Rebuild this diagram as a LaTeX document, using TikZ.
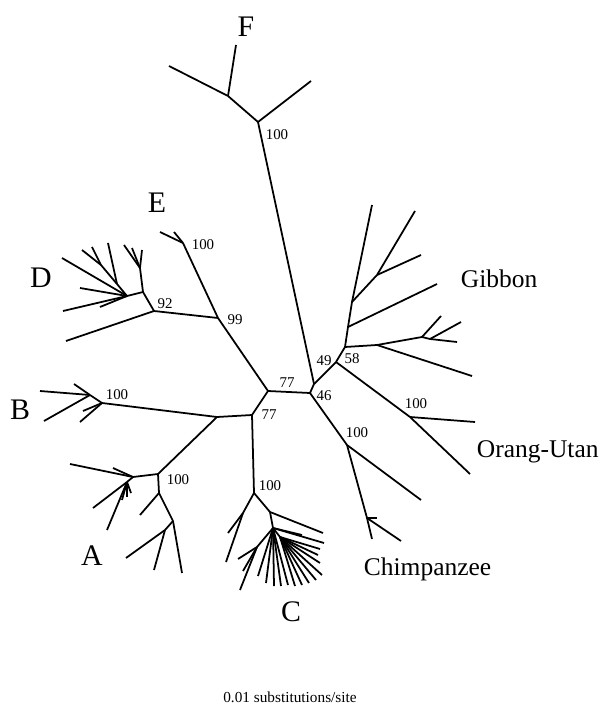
\documentclass[tikz,border=0pt]{standalone}
\usepackage{fontspec}
\setmainfont{Liberation Serif}
\begin{document}
\begin{tikzpicture}[x=0.02cm,y=-0.02cm,line width=1pt,line join=round]
	\tikzset{boot/.style={font=\fontsize{8.5}{10}\selectfont,inner sep=0pt},
		clade/.style={font=\fontsize{17}{20}\selectfont,inner sep=0pt,anchor=base},
		taxon/.style={font=\fontsize{14.5}{17}\selectfont,inner sep=0pt,anchor=base west}}
	\useasboundingbox (0,0) rectangle (601,705);
	% inner nodes
	\foreach \n/\x/\y in {n77a/268/391,n46/310/393,n49/314/384,n58/336/362,n77b/252/415,
		nX/217/417,n99/218/318,n92/154/311,nE/183/243,nF/258/122,f1/228/96,
		nA/158/474,nB/102/403,nC/254/493,nOU/410/417,nCh/347/445,ch2/367/518,
		g1/345/347,g2/348/327,g3/352/302,g4/377/275,g5/377/345,g6/422/337,g7/430/339,
		d1/143/292,d2/140/268,d3/127/296,d4/117/284,d5/101/265,b1/90/395,
		a1/133/477,a2/127/482,a3/159/493,a4/173/521,a5/165/530,
		c2/243/513,c3/270/512,c4/273/528,c5/280/537,s1/257/547}
		\coordinate (\n) at (\x,\y);
	\foreach \a/\b in {n77a/n46,n46/n49,n49/n58,n49/nF,nF/f1,n77a/n77b,n77a/n99,
		n99/n92,n99/nE,n92/d1,d1/d2,d1/d3,d3/d4,d4/d5,n77b/nX,nX/nB,nB/b1,
		nX/nA,nA/a1,a1/a2,nA/a3,a3/a4,a4/a5,n77b/nC,nC/c2,nC/c3,c3/c4,c4/c5,c4/s1,
		n58/g1,g1/g2,g2/g3,g3/g4,g1/g5,g5/g6,g6/g7,n58/nOU,n46/nCh,nCh/ch2}
		\draw (\a)--(\b);
	% leaves
	\foreach \p/\q/\x/\y in {f1/fl1/169/66,f1/fl2/236/45,nF/fl3/311/81,
		nE/el1/160/232,nE/el2/174/232,
		n92/dl1/66/341,d2/dl2/142/250,d2/dl3/124/245,d2/dl4/132/248,d3/dl5/62/258,
		d3/dl6/80/288,d3/dl7/63/311,d3/dl8/100/307,d4/dl9/108/243,d5/dl10/82/250,d5/dl11/92/247,
		b1/bl1/40/391,b1/bl2/74/384,b1/bl3/44/421,nB/bl4/80/422,nB/bl5/83/411,
		a1/al1/70/464,a1/al2/113/468,a2/al3/93/508,a2/al4/107/530,a2/al5/122/500,
		a2/al6/127/497,a2/al7/131/493,a3/al8/140/515,a4/al9/182/573,a5/al10/126/558,a5/al11/154/570,
		c2/cl1/228/533,c2/cl2/226/562,c3/cl3/323/533,s1/cl4/240/590,s1/cl5/238/559,s1/cl6/243/571,
		c4/cl7/302/535,c4/cl8/324/543,c5/cl9/320/549,c5/cl10/318/555,c5/cl11/320/563,
		c5/cl12/322/575,c5/cl13/316/580,c5/cl14/309/583,c5/cl15/302/585,c5/cl16/295/586,
		c4/cl17/288/585,c4/cl18/281/586,c4/cl19/274/586,c4/cl20/266/583,c4/cl21/258/576,
		nCh/chl1/421/500,ch2/chl2/372/539,ch2/chl3/401/541,ch2/chl4/377/518,
		nOU/ol1/475/422,nOU/ol2/470/474,
		g3/gl1/372/205,g2/gl2/437/284,g4/gl3/415/211,g4/gl4/421/255,g5/gl5/472/376,
		g6/gl6/441/316,g7/gl7/461/322,g7/gl8/457/342}
		\draw (\p)--(\x,\y) coordinate (\q);
	% bootstrap values
	\foreach \t/\x/\y in {100/277/135,100/203/245,92/165/304,99/235/320,100/117/395,
		100/178/480,77/287/383,77/269/415,46/324/396,49/324/361,58/352/359,
		100/270/486,100/357/433,100/416/404}
		\node[boot] at (\x,\y) {\t};
	% clades
	\node[clade] (labF) at (246,37) {F};
	\node[clade] (labE) at (157,213) {E};
	\node[clade] (labD) at (41,288) {D};
	\node[clade] (labB) at (20,419) {B};
	\node[clade] (labA) at (92,565) {A};
	\node[clade] (labC) at (291,621) {C};
	\node[taxon] (gibbon) at (460,288) {Gibbon};
	\node[taxon] (orang) at (476,457) {Orang-Utan};
	\node[taxon] (chimp) at (363,575) {Chimpanzee};
	\node[font=\fontsize{8.7}{10}\selectfont,inner sep=0pt,anchor=base] (scale) at (290,702) {0.01 substitutions/site};
\end{tikzpicture}
\end{document}
